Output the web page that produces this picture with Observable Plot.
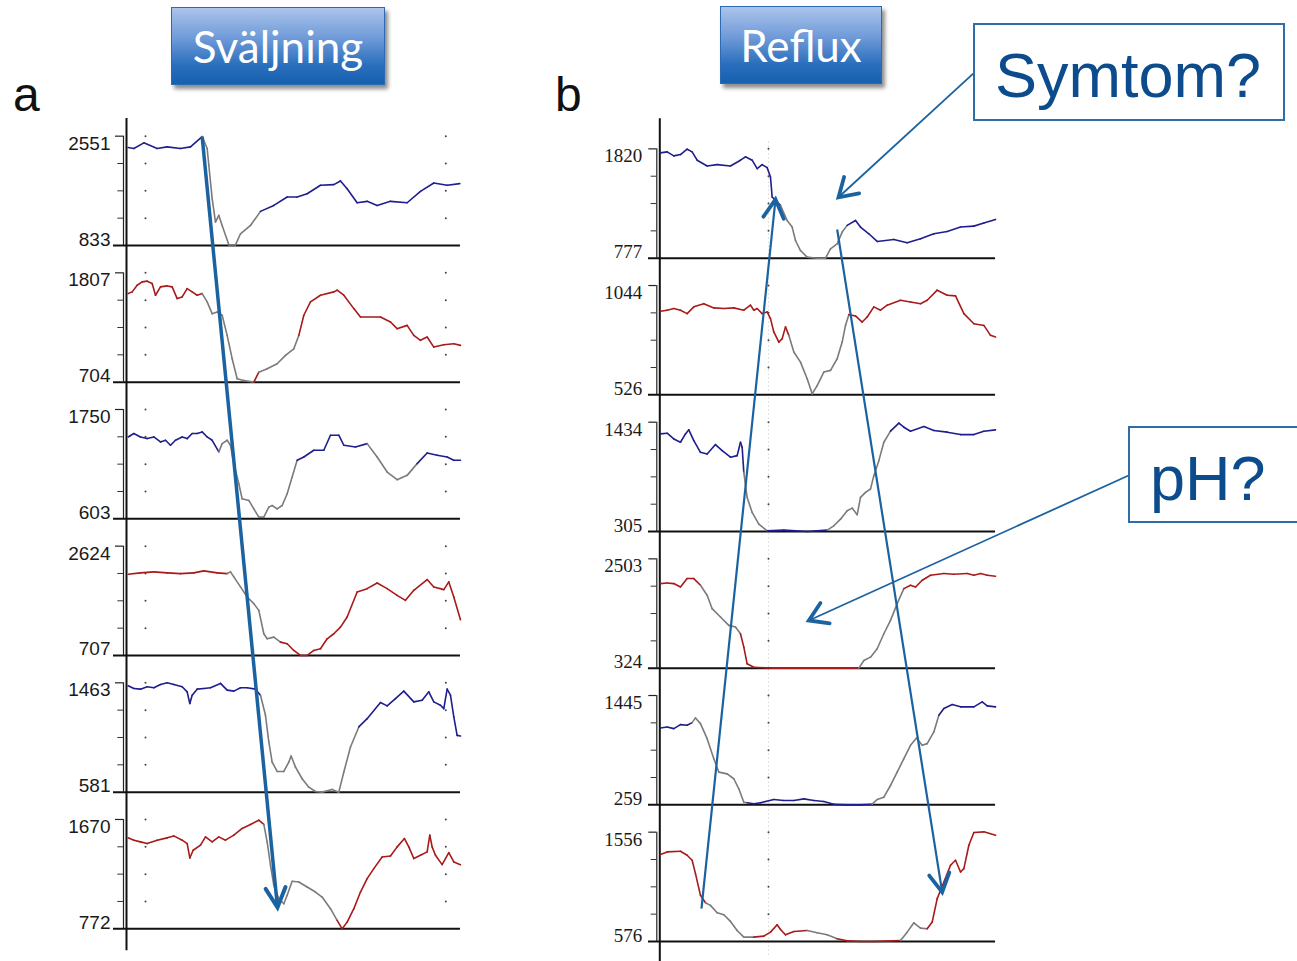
<!DOCTYPE html>
<html>
<head>
<meta charset="utf-8">
<script src="https://cdn.jsdelivr.net/npm/d3@7"></script>
<script src="https://cdn.jsdelivr.net/npm/@observablehq/plot@0.6"></script>
<style>
  body { margin: 0; background: #fff; }
  #page { position: relative; width: 1297px; height: 961px; overflow: hidden; background: #fff; }
  .panel { position: absolute; top: 0; }
  .letter { position: absolute; font-family: "Liberation Sans", Arial, sans-serif; font-size: 48px; line-height: 48px; color: #111; }
  .btn { position: absolute; box-sizing: border-box; border: 1px solid #2c6bb3;
         background: linear-gradient(#abc4eb 0%, #6f9ad8 40%, #2a6fbd 75%, #1660b0 100%);
         box-shadow: 3px 4px 4px rgba(0,0,0,0.45); color: #fff; font-family: Lato, "Open Sans", sans-serif;
         font-size: 44px; display: flex; align-items: center; justify-content: center; }
  .callout { position: absolute; box-sizing: border-box; border: 2px solid #2d6ea9; background: #fff;
             color: #0c4c8c; font-family: "Liberation Sans", Arial, sans-serif; font-size: 63px;
             display: flex; align-items: center; }
</style>
</head>
<body>
<div id="page">
  <div class="letter" style="left:13px;top:71px;">a</div>
  <div class="letter" style="left:555px;top:71px;">b</div>
</div>
<script>
// ---- channel ranges (tick labels) ----
const swallowMax = [2551, 1807, 1750, 2624, 1463, 1670];
const swallowMin = [833, 704, 603, 707, 581, 772];
const refluxMax = [1820, 1044, 1434, 2503, 1445, 1556];
const refluxMin = [777, 526, 305, 324, 259, 576];
const channelColor = ["blue", "red", "blue", "red", "blue", "red"];

// ---- panel a: swallow, impedance traces [time sample, ohm] ----
const swallow0 = [[0.5,2372],[2.2,2357],[5.2,2446],[9.2,2357],[12.2,2383],[16.2,2357],[19.2,2383],[22.7,2545],[24.2,2357],[24.7,2094],[25.7,1569],[26.7,1201],[27.7,1306],[28.7,1148],[30.7,843],[32.7,843],[34.2,1017],[37.2,1148],[40.2,1369],[44.2,1463],[48.2,1595],[51.2,1595],[54.2,1647],[58.2,1779],[62.2,1789],[64.2,1847],[66.2,1726],[69.2,1505],[72.2,1527],[75.2,1463],[79.2,1527],[84.2,1505],[88.2,1684],[92.2,1815],[96.2,1779],[100,1805]];
const swallow1 = [[0.5,1598],[1.7,1615],[3.2,1682],[4.7,1716],[6.2,1723],[7.7,1699],[8.7,1581],[10.2,1665],[12.2,1675],[13.7,1665],[15.2,1547],[16.7,1564],[18.2,1648],[19.7,1615],[21.2,1581],[22.7,1598],[24.2,1514],[25.7,1395],[27.2,1412],[28.7,1379],[30.2,1176],[31.7,940],[33.2,738],[35.2,721],[38.2,704],[39.7,805],[42.2,839],[45.2,890],[47.7,974],[50.2,1041],[51.7,1176],[53.2,1379],[55.2,1514],[58.2,1581],[62.2,1615],[63.2,1632],[65.2,1581],[68.2,1446],[70.2,1362],[76.2,1362],[79.2,1311],[81.2,1244],[84.2,1277],[86.2,1176],[88.2,1126],[90.2,1159],[92.2,1058],[95.2,1082],[98.2,1092],[100.2,1075]];
const swallow2 = [[0.5,1462],[2.2,1498],[4.2,1462],[6.2,1445],[8.2,1462],[10.2,1410],[11.7,1427],[13.2,1375],[14.7,1427],[16.7,1462],[18.2,1445],[19.7,1498],[21.2,1498],[22.7,1515],[24.2,1462],[25.7,1427],[27.7,1305],[28.7,1392],[30.2,1427],[31.2,1375],[32.2,1182],[33.7,971],[34.7,813],[36.7,796],[38.2,708],[39.7,621],[41.2,621],[42.7,726],[43.7,743],[45.2,708],[46.7,743],[48.2,866],[49.7,1041],[51.2,1217],[53.2,1252],[56.2,1322],[59.2,1322],[61.2,1480],[63.7,1480],[65.2,1375],[68.7,1357],[72.2,1392],[75.2,1252],[78.2,1094],[81.2,1013],[84.2,1059],[87.2,1182],[90.2,1294],[93.2,1270],[96.2,1252],[98.2,1217],[100.2,1217]];
const swallow3 = [[0.5,2131],[4.2,2155],[8.2,2173],[12.2,2155],[16.2,2143],[20.2,2155],[23.2,2190],[27.2,2155],[30.2,2143],[31.2,2173],[32.2,2085],[34.2,1909],[36.2,1733],[38.2,1616],[39.7,1498],[41.2,1088],[42.2,1000],[44.2,1029],[46.2,941],[48.2,912],[50.2,795],[52.2,707],[54.2,707],[56.2,795],[58.2,824],[60.2,1000],[62.2,1088],[64.2,1205],[66.2,1381],[69.2,1821],[72.2,1879],[75.2,1979],[78.2,1879],[81.2,1762],[83.7,1674],[86.2,1850],[90.2,2038],[92.2,1909],[95.2,1862],[96.7,1997],[98.2,1733],[100.2,1334]];
const swallow4 = [[0.5,1439],[2.2,1417],[4.2,1412],[6.2,1431],[8.2,1423],[10.2,1449],[12.2,1463],[14.2,1449],[16.7,1431],[18.2,1390],[19.0,1296],[19.7,1363],[21.2,1412],[23.2,1417],[25.2,1423],[28.2,1458],[30.2,1404],[32.2,1396],[34.2,1423],[36.2,1423],[38.7,1412],[40.2,1363],[41.7,1201],[42.7,986],[43.7,824],[45.2,748],[47.2,748],[48.7,824],[49.4,872],[50.7,783],[52.7,689],[54.7,621],[56.7,586],[58.7,581],[61.7,603],[63.7,581],[65.2,743],[67.2,945],[69.7,1107],[72.2,1174],[76.2,1304],[78.2,1277],[80.7,1336],[83.2,1396],[86.2,1309],[88.7,1323],[90.7,1390],[92.2,1309],[94.2,1282],[95.2,1255],[96.2,1412],[97.2,1363],[98.2,1188],[99.2,1039],[100.2,1034]];
const swallow5 = [[0.5,1519],[2.2,1500],[4.2,1486],[6.2,1472],[9.2,1500],[12.2,1519],[14.2,1535],[16.7,1500],[18.2,1472],[19.0,1354],[20.0,1417],[22.2,1459],[23.7,1527],[25.7,1486],[27.7,1527],[29.7,1500],[32.2,1541],[34.7,1596],[37.2,1629],[39.7,1664],[41.2,1629],[42.2,1486],[43.2,1294],[44.2,1129],[45.7,1019],[47.2,978],[48.2,1047],[49.7,1162],[51.7,1156],[54.2,1115],[56.7,1074],[58.7,1033],[61.2,937],[63.2,841],[64.7,772],[66.2,827],[68.2,937],[70.2,1074],[72.2,1184],[74.2,1266],[76.7,1362],[79.2,1370],[81.2,1445],[83.4,1513],[84.7,1445],[86.2,1349],[88.2,1376],[90.2,1404],[91.0,1541],[91.7,1445],[92.7,1376],[94.7,1299],[96.7,1398],[98.2,1321],[100.2,1299]];
const swallowGray = [[[23,42]], [[22,37],[40,52]], [[27,52],[72,88]], [[30,46]], [[40,70]], [[41,63]]];

// ---- panel b: reflux ----
const reflux0 = [[0.2,1782],[2.2,1791],[4.2,1753],[6.2,1766],[8.2,1817],[9.7,1791],[11.2,1712],[14.2,1657],[17.2,1670],[21.2,1657],[24.2,1712],[25.7,1744],[27.7,1712],[29.2,1632],[30.7,1670],[32.2,1641],[33.2,1552],[33.7,1361],[34.7,1329],[36.2,1281],[38.2,1137],[39.7,1074],[40.7,946],[42.2,850],[44.2,787],[47.2,777],[49.7,777],[51.2,866],[53.2,914],[54.7,1026],[56.2,1090],[58.7,1137],[60.2,1074],[62.7,1010],[65.2,937],[70.2,956],[74.2,924],[78.2,962],[82.2,1010],[86.2,1032],[90.2,1074],[94.2,1083],[97.2,1112],[100.7,1147]];
const reflux1 = [[0.2,922],[2.2,927],[4.2,935],[6.2,927],[8.2,911],[10.2,943],[13.2,958],[16.2,938],[19.2,935],[22.2,938],[25.2,927],[27.2,951],[28.2,927],[29.2,935],[30.7,911],[32.2,919],[33.2,887],[34.2,824],[35.7,776],[36.7,792],[37.7,848],[38.7,808],[40.2,729],[42.2,681],[44.2,602],[45.7,531],[47.2,570],[49.2,634],[51.2,642],[53.2,697],[54.7,776],[55.7,855],[56.7,906],[58.7,900],[60.7,871],[62.2,895],[64.2,943],[66.2,927],[68.2,951],[72.2,974],[75.2,966],[78.2,958],[80.2,974],[83.2,1022],[86.2,998],[88.7,995],[91.2,911],[94.2,863],[97.2,855],[99.2,808],[100.7,800]];
const reflux2 = [[0.2,1313],[2.2,1320],[4.2,1261],[6.2,1227],[7.7,1313],[8.7,1355],[10.2,1244],[12.2,1123],[14.2,1106],[16.7,1203],[18.7,1141],[21.2,1072],[23.2,1089],[24.2,1227],[24.7,1175],[25.2,916],[26.2,657],[27.7,502],[29.7,381],[32.2,312],[37.2,319],[44.2,305],[50.2,319],[52.2,364],[54.2,433],[56.2,519],[57.7,547],[59.2,478],[60.2,657],[61.7,709],[63.2,744],[64.2,882],[65.7,1037],[67.2,1227],[69.2,1341],[71.7,1424],[73.2,1382],[75.2,1341],[79.2,1389],[82.2,1348],[86.2,1331],[90.2,1306],[94.2,1306],[97.2,1341],[100.7,1355]];
const reflux3 = [[0.2,2010],[2.2,2023],[4.2,2010],[6.2,1943],[8.2,2110],[10.2,2110],[12.2,1977],[14.2,1777],[15.7,1510],[18.2,1344],[20.7,1177],[22.7,1144],[24.2,1010],[25.2,744],[26.2,411],[28.2,344],[34.2,324],[44.2,324],[54.2,324],[59.7,324],[61.2,477],[63.2,544],[65.2,711],[67.2,1010],[69.2,1277],[71.2,1610],[73.2,1910],[75.2,1977],[76.7,1943],[78.7,2077],[81.2,2177],[85.2,2210],[88.2,2197],[92.2,2210],[94.2,2177],[96.2,2210],[98.2,2177],[100.7,2157]];
const reflux4 = [[0.2,1093],[2.2,1104],[4.2,1086],[6.2,1129],[8.2,1122],[9.7,1151],[10.7,1202],[12.2,1140],[14.2,977],[16.2,760],[17.7,614],[20.2,595],[22.2,542],[23.7,433],[25.2,288],[26.2,281],[28.2,270],[30.2,281],[34.2,317],[37.2,306],[40.2,306],[43.2,324],[46.2,306],[49.2,295],[52.2,266],[56.2,259],[60.2,259],[63.7,266],[65.2,317],[67.2,342],[69.2,469],[71.2,614],[73.2,760],[75.2,905],[77.0,984],[78.7,905],[80.2,923],[82.2,1050],[83.7,1231],[85.2,1304],[87.7,1347],[90.2,1322],[94.2,1322],[96.7,1376],[98.2,1333],[100.7,1322]];
const reflux5 = [[0.2,1355],[2.2,1379],[6.2,1385],[8.2,1349],[9.7,1304],[10.7,1184],[12.2,990],[13.7,924],[15.2,900],[17.2,834],[19.2,816],[21.2,756],[23.2,675],[25.2,615],[28.2,615],[31.2,624],[33.2,660],[35.2,726],[36.2,684],[37.7,636],[40.2,666],[44.2,675],[47.2,654],[50.2,636],[53.2,600],[56.2,582],[60.2,576],[64.2,576],[68.2,579],[72.2,585],[74.2,660],[76.2,744],[78.2,696],[80.2,690],[81.7,750],[83.2,960],[85.2,1109],[87.2,1259],[88.7,1304],[90.2,1199],[91.2,1229],[92.7,1439],[94.2,1553],[97.2,1559],[100.7,1529]];
const refluxGray = [[[37,56]], [[39,57]], [[25,32],[50,69]], [[12,24],[60,73]], [[10,26],[64,83]], [[14,28],[45,53],[72,80]]];

// ---- annotation arrows (time sample, track level) ----
const swallowArrows = [{x1: 22.7, y1: 5.797, x2: 45.3, y2: 0.156}];
const refluxArrows = [
  {x1: 12.5, y1: 0.241, x2: 34.7, y2: 5.430},
  {x1: 53.2, y1: 5.210, x2: 84.7, y2: 0.361}
];
const calloutArrows = [
  {x1: 94.0, y1: 6.351, x2: 53.6, y2: 5.446},
  {x1: 140.6, y1: 3.410, x2: 44.7, y2: 2.349}
];

const COLORS = {blue: "#1e1e8e", red: "#a81a1a", gray: "#7b7b7b"};
const ARROW = "#1b62a0";

// open "V" arrowhead symbol, tip at the origin, pointing up
function chevron(len, halfDeg) {
  const a = halfDeg * Math.PI / 180;
  const sx = len * Math.sin(a), sy = len * Math.cos(a);
  return {draw(ctx) { ctx.moveTo(-sx, sy); ctx.lineTo(0, 0); ctx.lineTo(sx, sy); }};
}

function buildPanel(cfg) {
  const {traces, grays, maxs, mins} = cfg;
  const level = (ch, v) => (5 - ch) + 0.8 * (v - mins[ch]) / (maxs[ch] - mins[ch]);
  const kx = (cfg.xRange[1] - cfg.xRange[0]) / 100;
  const ky = (cfg.yRange[1] - cfg.yRange[0]) / 5;
  const segs = [];
  traces.forEach((tr, ch) => {
    for (let i = 0; i < tr.length - 1; i++) {
      const [t1, v1] = tr[i], [t2, v2] = tr[i + 1];
      const mid = (t1 + t2) / 2;
      const g = grays[ch].some(([a, b]) => mid >= a && mid <= b);
      segs.push({x1: t1, y1: level(ch, v1), x2: t2, y2: level(ch, v2), c: g ? COLORS.gray : COLORS[channelColor[ch]]});
    }
  });
  const chans = d3.range(6).map(ch => ({ch, base: 5 - ch, top: 5 - ch + 0.8, max: maxs[ch], min: mins[ch]}));
  const quarters = chans.flatMap(c => [0.25, 0.5, 0.75].map(f => ({y: c.base + 0.8 * f})));
  const gridDots = chans.flatMap(c => [0.25, 0.5, 0.75, 1].flatMap(f => cfg.gridT.map(t => ({t, y: c.base + 0.8 * f}))));
  const marks = [];
  if (cfg.dashT != null) {
    marks.push(Plot.ruleX([{t: cfg.dashT}], {x: "t", y1: -0.1, y2: 5.85, stroke: "#c8c8c8", strokeDasharray: "1,3", strokeWidth: 1}));
  }
  marks.push(
    Plot.dot(gridDots, {x: "t", y: "y", r: 1, fill: "#444", stroke: null}),
    Plot.ruleY(chans, {y: "base", x1: cfg.baseStart, x2: cfg.baseEnd, stroke: "#111", strokeWidth: 2}),
    Plot.ruleX(chans, {x: 0, y1: "base", y2: "top", dx: -3, stroke: "#222", strokeWidth: 1.2}),
    Plot.ruleY(chans, {y: "top", x1: -3.3, x2: -0.9, stroke: "#222", strokeWidth: 1.2}),
    Plot.ruleY(quarters, {y: "y", x1: -2.6, x2: -0.9, stroke: "#333", strokeWidth: 1}),
    Plot.ruleX([{t: 0, y1: cfg.axisBottom, y2: cfg.axisTop}], {x: "t", y1: "y1", y2: "y2", stroke: "#111", strokeWidth: 2}),
    Plot.link(segs, {x1: "x1", y1: "y1", x2: "x2", y2: "y2", stroke: "c", strokeWidth: 1.6, strokeLinecap: "round"}),
    Plot.text(chans, {x: 0, y: "top", text: d => String(d.max), textAnchor: "end", lineAnchor: "top", dx: cfg.labelDx, fontSize: 19, fontFamily: cfg.labelFont, fill: "#1a1a1a"}),
    Plot.text(chans, {x: 0, y: "base", text: d => String(d.min), textAnchor: "end", lineAnchor: "bottom", dx: cfg.labelDx, fontSize: 19, fontFamily: cfg.labelFont, fill: "#1a1a1a"})
  );
  for (const a of cfg.arrows) {
    const heads = a.data.map(d => ({
      x: d.x2, y: d.y2,
      rotate: Math.atan2((d.x2 - d.x1) * kx, -(d.y2 - d.y1) * ky) * 180 / Math.PI
    }));
    marks.push(
      Plot.link(a.data, {x1: "x1", y1: "y1", x2: "x2", y2: "y2", stroke: ARROW, strokeWidth: a.sw}),
      Plot.dot(heads, {x: "x", y: "y", rotate: "rotate", symbol: chevron(a.len, a.half), fill: "none", stroke: ARROW, strokeWidth: a.hw, strokeLinejoin: "miter", strokeLinecap: "round"})
    );
  }
  const svg = Plot.plot({
    width: cfg.width, height: 961, margin: 0,
    style: {background: "transparent", overflow: "visible"},
    x: {domain: [0, 100], range: cfg.xRange, axis: null},
    y: {domain: [0, 5], range: cfg.yRange, axis: null},
    color: {type: "identity"},
    marks
  });
  const wrap = document.createElement("div");
  wrap.className = "panel";
  wrap.style.left = cfg.left + "px";
  wrap.appendChild(svg);
  return wrap;
}

const page = document.getElementById("page");
page.appendChild(buildPanel({
  traces: [swallow0, swallow1, swallow2, swallow3, swallow4, swallow5],
  grays: swallowGray, maxs: swallowMax, mins: swallowMin,
  width: 540, left: 0, xRange: [126, 459.3], yRange: [928.3, 245],
  axisTop: 5.93, axisBottom: -0.16, baseStart: -3.9, baseEnd: 100.2,
  gridT: [5.7, 95.8], dashT: null, labelDx: -16, labelFont: "Liberation Sans, Arial, sans-serif",
  arrows: [{data: swallowArrows, sw: 3.5, hw: 4, len: 22, half: 27}]
}));
page.appendChild(buildPanel({
  traces: [reflux0, reflux1, reflux2, reflux3, reflux4, reflux5],
  grays: refluxGray, maxs: refluxMax, mins: refluxMin,
  width: 757, left: 540, xRange: [119.3, 452.7], yRange: [941, 257.7],
  axisTop: 6.02, axisBottom: -0.15, baseStart: -3.4, baseEnd: 100.7,
  gridT: [32.6], dashT: 32.6, labelDx: -17.5, labelFont: "Liberation Serif, Times New Roman, serif",
  arrows: [{data: refluxArrows, sw: 2.2, hw: 3.8, len: 21, half: 29}, {data: calloutArrows, sw: 1.8, hw: 3.8, len: 21, half: 32}]
}));

function addBox(cls, text, left, top, w, h, extra) {
  const d = document.createElement("div");
  d.className = cls;
  d.textContent = text;
  Object.assign(d.style, {left: left + "px", top: top + "px", width: w + "px", height: h + "px"}, extra || {});
  page.appendChild(d);
}
addBox("btn", "Sväljning", 171, 7, 214, 78);
addBox("btn", "Reflux", 720, 6, 162, 78);
addBox("callout", "Symtom?", 973, 23, 312, 98, {paddingLeft: "20px", paddingTop: "6px"});
addBox("callout", "pH?", 1128, 426, 180, 97, {paddingLeft: "20px", paddingTop: "6px"});
</script>
</body>
</html>
